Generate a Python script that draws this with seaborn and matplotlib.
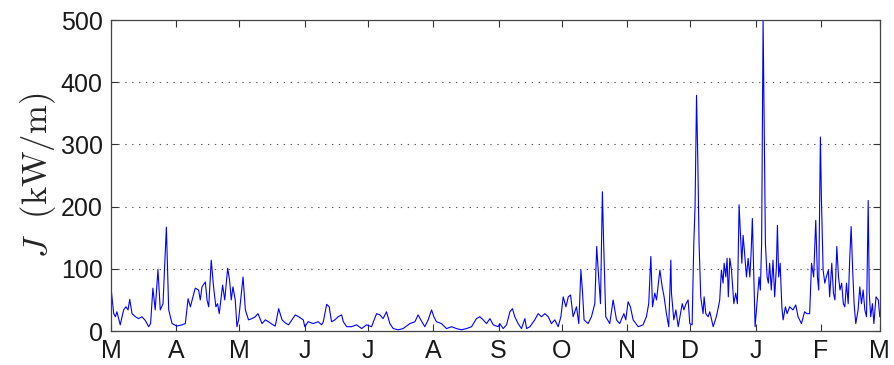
import matplotlib
matplotlib.use("Agg")
import matplotlib.pyplot as plt
import seaborn as sns
import pandas as pd

# ---- data (day since 1 March, wave energy flux J in kW/m) ----
days = [0, 1.3, 2.1, 2.8, 4.4, 6.0, 7.1, 8.1, 8.9, 10.0, 11.6, 13.1, 14.7, 16.3, 17.9, 18.8,
        19.9, 21.0, 22.3, 23.4, 24.7, 26.3, 27.4, 29.0, 31.3, 33.7, 35.3, 36.6, 37.7, 38.9,
        40.0, 41.6, 42.4, 43.2, 44.8, 45.6, 46.4, 47.6, 48.7, 49.8, 50.6, 51.4, 53.0, 54.0,
        55.4, 56.3, 57.1, 57.9, 59.0, 59.8, 60.6, 62.7, 63.8, 65.3, 66.9, 68.5, 69.8, 71.7,
        73.3, 74.8, 76.4, 78.0, 79.6, 81.2, 82.8, 84.3, 85.9, 87.5, 89.1,
        91.3, 92.0, 93.6, 96.0, 98.4, 100.0, 100.8, 102.4, 103.6, 104.7, 106.3, 107.9, 109.5,
        110.3, 111.9, 114.2, 116.6, 119.0, 121.3, 123.7, 126.1, 127.7, 129.2, 130.8, 132.4,
        134.0, 136.3, 138.7, 141.9, 144.3, 145.8, 147.1, 149.0, 150.6, 152.2, 153.3, 154.5,
        156.9, 159.3, 161.7, 164.0, 166.4, 168.8, 171.2, 173.5, 175.1,
        176.7, 178.3, 179.9, 181.5, 183.8, 184.6, 186.2, 187.8, 189.4, 190.6, 191.7, 193.3,
        194.9, 196.5, 197.3, 198.9, 201.2, 202.8, 204.4, 206.0, 207.6, 209.1, 210.7, 212.3,
        213.6, 214.7, 216.0, 217.1, 218.2, 219.4, 221.0, 222.1, 223.1, 223.9, 224.6, 226.5,
        228.1, 229.7, 230.6, 231.4, 232.4, 233.3, 233.9, 234.9, 236.8, 238.4, 240.0, 241.5,
        243.5, 244.4, 245.5, 246.6, 247.9, 250.3, 252.6, 254.2, 255.3, 256.3, 257.1, 258.2,
        259.0, 260.6, 261.7, 262.6, 263.7, 264.8, 265.8,
        266.1, 267.2, 268.2, 269.3, 270.1, 271.2, 272.0, 273.0, 274.0, 274.8, 275.9, 276.7,
        277.3, 278.0, 278.6, 279.2, 280.0, 281.1, 281.6, 282.4, 283.5, 284.3, 285.9, 287.4,
        288.4, 289.0, 289.8, 290.6, 291.1, 291.9, 292.5, 293.1, 293.8, 294.6, 295.7, 296.6,
        297.4, 298.2, 298.9, 299.5, 300.1, 300.7, 301.7, 302.5, 303.3, 303.9, 304.5, 305.2,
        305.8, 306.7, 307.7, 308.3, 308.9, 309.6, 310.1, 310.7, 311.5, 312.1, 312.7, 313.5,
        314.3, 315.1, 315.9, 316.4, 317.0, 317.7, 318.5, 319.1, 320.2, 321.0, 322.2, 323.8,
        325.1, 326.2, 327.8, 329.3, 330.4, 331.7, 332.6, 333.6, 334.6, 335.4, 336.0, 336.8,
        337.3, 338.1, 338.9, 339.6, 340.6, 341.2, 342.2, 343.0, 343.7, 344.6, 345.4, 346.1,
        346.9, 347.7, 348.4, 349.2, 350.0, 350.7, 351.4, 352.0, 352.8, 353.6, 354.7, 355.5,
        356.3, 357.1, 357.9, 358.7, 359.5, 360.0, 360.7, 361.5, 362.2, 363.2, 364.3, 365.0]

flux = [70, 28, 23, 31, 10, 34, 39, 34, 51, 28, 23, 20, 23, 17, 7, 12,
        69, 34, 99, 34, 44, 167, 34, 12, 8, 10, 12, 52, 39, 55,
        69, 66, 50, 71, 79, 50, 39, 114, 71, 39, 44, 28, 74, 50,
        101, 82, 50, 71, 50, 7, 18, 87, 34, 18, 20, 23, 28, 12,
        18, 15, 11, 8, 36, 18, 13, 10, 18, 26, 23,
        18, 7, 15, 12, 15, 10, 15, 43, 39, 15, 18, 23, 26,
        15, 7, 7, 10, 4, 10, 7, 28, 26, 20, 31, 12,
        4, 2, 4, 12, 15, 26, 18, 7, 18, 34, 23, 15,
        12, 4, 7, 4, 2, 4, 7, 20, 23,
        18, 12, 20, 10, 7, 12, 4, 10, 31, 36, 23, 12,
        4, 20, 4, 7, 18, 28, 23, 28, 23, 12, 18, 7,
        23, 55, 39, 55, 58, 23, 39, 12, 98, 61, 18, 12,
        23, 44, 136, 93, 44, 224, 141, 23, 12, 50, 18, 12,
        28, 18, 47, 39, 18, 7, 10, 23, 44, 120, 39, 61,
        50, 98, 71, 55, 28, 7, 114,
        61, 18, 34, 7, 23, 44, 34, 44, 50, 12, 10, 141,
        200, 379, 275, 141, 55, 28, 55, 28, 23, 31, 7, 23,
        39, 50, 98, 77, 109, 87, 117, 55, 117, 98, 44, 61,
        44, 203, 152, 109, 154, 130, 87, 117, 87, 125, 181, 87,
        7, 44, 87, 66, 141, 500, 339, 141, 87, 77, 109, 66,
        114, 55, 103, 170, 87, 109, 39, 18, 39, 28, 39, 34,
        42, 23, 12, 31, 28, 28, 109, 87, 178, 87, 66, 312,
        210, 98, 77, 87, 98, 55, 109, 61, 50, 136, 87, 66,
        77, 44, 39, 77, 44, 114, 168, 109, 44, 12, 34, 71,
        44, 66, 34, 23, 210, 61, 23, 44, 12, 55, 50, 23]

month_starts = [0, 31, 61, 92, 122, 153, 184, 214, 245, 275, 306, 337, 365]
month_labels = ["M", "A", "M", "J", "J", "A", "S", "O", "N", "D", "J", "F", "M"]
y_ticks = [0, 100, 200, 300, 400, 500]

df = pd.DataFrame({"day": days, "J": flux})

sns.set_theme(style="white")
plt.rcParams["font.family"] = ["Liberation Sans", "DejaVu Sans"]
plt.rcParams["mathtext.fontset"] = "cm"

fig = plt.figure(figsize=(8.95, 3.65), dpi=100)
ax = fig.add_axes([0.124, 0.093, 0.859, 0.852])

sns.lineplot(data=df, x="day", y="J", color="#0000ff", linewidth=0.8, ax=ax,
             estimator=None, sort=False)

ax.set_xlim(0, 365)
ax.set_ylim(0, 500)
ax.set_xticks(month_starts)
ax.set_xticklabels(month_labels)
ax.set_yticks(y_ticks)
ax.set_xlabel("")
ax.set_ylabel(r"$J\ \ \mathrm{(kW/m)}$", fontsize=25, labelpad=2)

for lab in ax.get_xticklabels() + ax.get_yticklabels():
    lab.set_fontsize(18)
    lab.set_color("#1a1a1a")

ax.tick_params(direction="in", top=True, right=True, length=5, width=0.8,
               color="#333333", bottom=True, left=True)
ax.tick_params(axis="x", pad=6)
ax.tick_params(axis="y", pad=6)

for s in ax.spines.values():
    s.set_visible(True)
    s.set_color("#444444")
    s.set_linewidth(0.9)

for yv in y_ticks[1:-1]:
    ax.axhline(yv, color="#555555", linewidth=0.8, linestyle=(0, (1.2, 5)), zorder=0)

fig.savefig("out.png", dpi=100, facecolor="white")
